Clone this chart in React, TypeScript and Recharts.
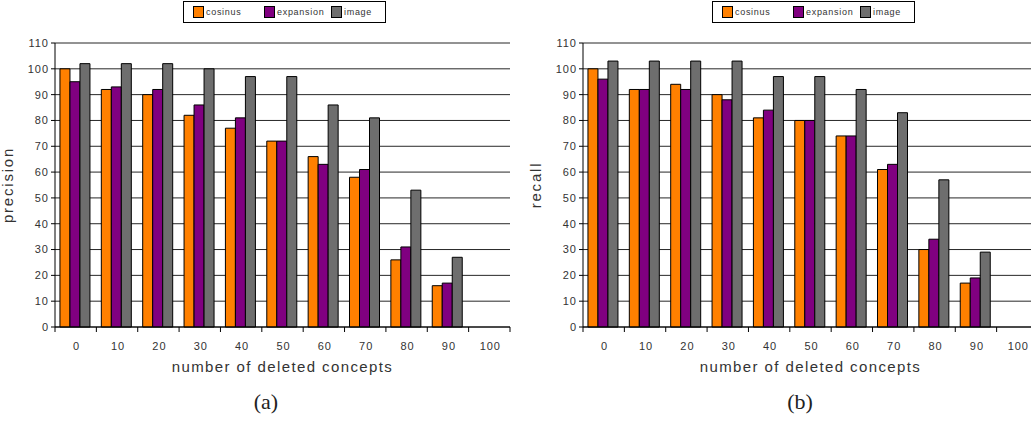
import { Bar, BarChart, CartesianGrid, XAxis, YAxis } from "recharts";

const categories = ["0", "10", "20", "30", "40", "50", "60", "70", "80", "90", "100"];

// (a) precision
const precisionCosinus = [100, 92, 90, 82, 77, 72, 66, 58, 26, 16, 0];
const precisionExpansion = [95, 93, 92, 86, 81, 72, 63, 61, 31, 17, 0];
const precisionImage = [102, 102, 102, 100, 97, 97, 86, 81, 53, 27, 0];

// (b) recall
const recallCosinus = [100, 92, 94, 90, 81, 80, 74, 61, 30, 17, 0];
const recallExpansion = [96, 92, 92, 88, 84, 80, 74, 63, 34, 19, 0];
const recallImage = [103, 103, 103, 103, 97, 97, 92, 83, 57, 29, 0];

const yTicks = [0, 10, 20, 30, 40, 50, 60, 70, 80, 90, 100, 110];

const SERIES = [
  { key: "cosinus", color: "#ff8000", legendWidth: 71 },
  { key: "expansion", color: "#800080", legendWidth: 67 },
  { key: "image", color: "#6e6e6e", legendWidth: 50 },
];

const FONT = "'Liberation Sans', Arial, sans-serif";
const CHART_W = 520;
const CHART_H = 380;
const MARGIN = { top: 43, right: 10, bottom: 3, left: 0 };
const Y_AXIS_W = 55;
const BAND = (CHART_W - MARGIN.left - MARGIN.right - Y_AXIS_W) / categories.length;
const TICK_SIZE = 5;
const TICK_MARGIN = 10;

function buildRows(a: number[], b: number[], c: number[]) {
  return categories.map((cat, i) => ({ cat, cosinus: a[i], expansion: b[i], image: c[i] }));
}

/** Excel-style category tick: marks sit between the bars, label in the middle. */
function CategoryTick(props: any) {
  const { x, y, payload, index } = props;
  const axisY = y - TICK_SIZE - TICK_MARGIN;
  const last = index === categories.length - 1;
  return (
    <g>
      <line x1={x - BAND / 2} x2={x - BAND / 2} y1={axisY} y2={axisY + TICK_SIZE} stroke="#000" />
      {last && (
        <line x1={x + BAND / 2} x2={x + BAND / 2} y1={axisY} y2={axisY + TICK_SIZE} stroke="#000" />
      )}
      <text
        x={x + 1}
        y={y}
        dy="0.71em"
        textAnchor="middle"
        fontSize={11}
        letterSpacing={1}
        fill="#333"
        fontFamily={FONT}
      >
        {payload.value}
      </text>
    </g>
  );
}

function LegendBox({ left }: { left: number }) {
  return (
    <div
      style={{
        position: "absolute",
        left,
        top: 1,
        width: 203,
        height: 22,
        boxSizing: "border-box",
        border: "1px solid #000",
        display: "flex",
        alignItems: "center",
        paddingLeft: 9,
        fontFamily: FONT,
        fontSize: 9,
        letterSpacing: 0.7,
        color: "#333",
        background: "#fff",
      }}
    >
      {SERIES.map((s) => (
        <div key={s.key} style={{ display: "flex", alignItems: "center", width: s.legendWidth }}>
          <span
            style={{
              display: "inline-block",
              width: 9,
              height: 10,
              background: s.color,
              border: "1px solid #000",
              marginRight: 2,
            }}
          />
          <span>{s.key}</span>
        </div>
      ))}
    </div>
  );
}

function Panel(props: {
  left: number;
  rows: ReturnType<typeof buildRows>;
  yLabel: string;
  caption: string;
  captionX: number;
  legendLeft: number;
}) {
  const { left, rows, yLabel, caption, captionX, legendLeft } = props;
  return (
    <>
      <LegendBox left={legendLeft} />
      <div style={{ position: "absolute", left, top: 0 }}>
        <BarChart
          width={CHART_W}
          height={CHART_H}
          data={rows}
          margin={MARGIN}
          barGap={0}
          barCategoryGap="12%"
        >
          <CartesianGrid vertical={false} stroke="#000" strokeOpacity={0.85} />
          <XAxis
            dataKey="cat"
            height={50}
            tickSize={TICK_SIZE}
            tickMargin={TICK_MARGIN}
            tickLine={false}
            axisLine={{ stroke: "#000" }}
            tick={<CategoryTick />}
            interval={0}
            label={{
              value: "number of deleted concepts",
              position: "insideBottom",
              offset: 5,
              fontSize: 15,
              letterSpacing: 1.4,
              fill: "#333",
              fontFamily: FONT,
            }}
          />
          <YAxis
            width={Y_AXIS_W}
            domain={[0, 110]}
            ticks={yTicks}
            interval={0}
            tickSize={4}
            tickMargin={2}
            axisLine={{ stroke: "#000" }}
            tickLine={{ stroke: "#000" }}
            tick={{ fontSize: 11, fill: "#333", fontFamily: FONT, letterSpacing: 1 }}
            label={{
              value: yLabel,
              angle: -90,
              position: "insideLeft",
              offset: 8,
              fontSize: 15,
              letterSpacing: 1.8,
              fill: "#333",
              fontFamily: FONT,
              style: { textAnchor: "middle" },
            }}
          />
          {SERIES.map((s) => (
            <Bar
              key={s.key}
              dataKey={s.key}
              fill={s.color}
              stroke="#000"
              strokeWidth={1}
              isAnimationActive={false}
            />
          ))}
        </BarChart>
      </div>
      <div
        style={{
          position: "absolute",
          left: captionX - 40,
          width: 80,
          top: 389,
          textAlign: "center",
          fontFamily: "'Liberation Serif', 'DejaVu Serif', serif",
          fontSize: 22,
          color: "#222",
        }}
      >
        {caption}
      </div>
    </>
  );
}

export default function App() {
  return (
    <div
      style={{
        position: "absolute",
        left: 0,
        top: 0,
        width: 1031,
        height: 431,
        overflow: "hidden",
        background: "#fff",
      }}
    >
      <Panel
        left={0}
        rows={buildRows(precisionCosinus, precisionExpansion, precisionImage)}
        yLabel="precision"
        caption="(a)"
        captionX={266}
        legendLeft={183}
      />
      <Panel
        left={528}
        rows={buildRows(recallCosinus, recallExpansion, recallImage)}
        yLabel="recall"
        caption="(b)"
        captionX={800}
        legendLeft={712}
      />
    </div>
  );
}
